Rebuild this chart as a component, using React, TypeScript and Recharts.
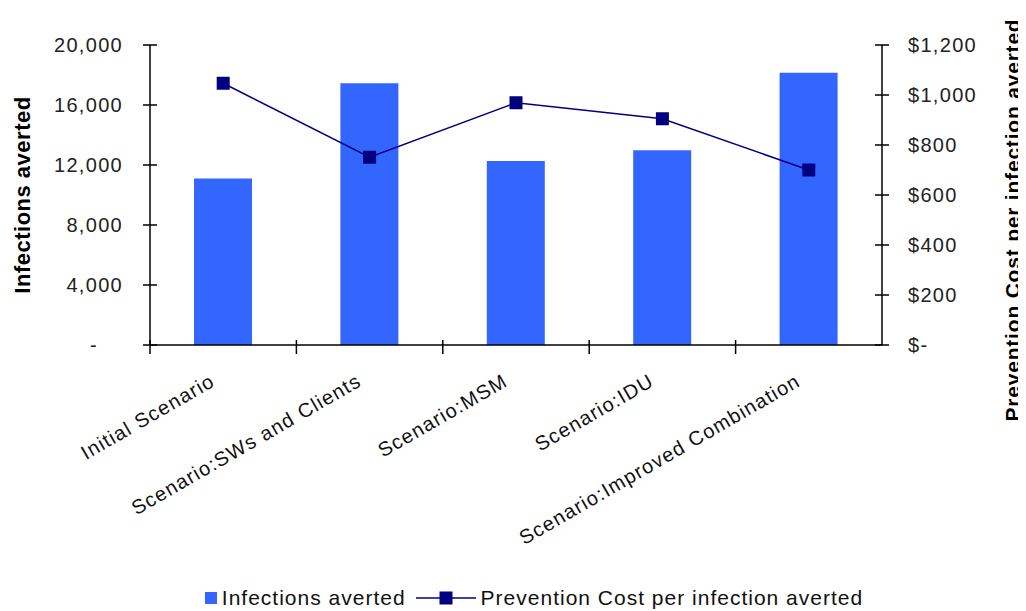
import { ComposedChart, Bar, Line, XAxis, YAxis, Legend } from "recharts";

const categories = [
  "Initial Scenario",
  "Scenario:SWs and Clients",
  "Scenario:MSM",
  "Scenario:IDU",
  "Scenario:Improved Combination",
];
const infectionsAverted = [11100, 17450, 12270, 12980, 18150];
const costPerInfection = [1047, 751, 969, 905, 700];
const leftTicks = [0, 4000, 8000, 12000, 16000, 20000];
const rightTicks = [0, 200, 400, 600, 800, 1000, 1200];

const data = categories.map((name, i) => ({
  name,
  infections: infectionsAverted[i],
  cost: costPerInfection[i],
}));

const BAR = "#3366FF";
const NAVY = "#000080";
const FONT = "Arial, 'Liberation Sans', sans-serif";
const PLOT_W = 732;
const BAND = PLOT_W / categories.length;

const fmtLeft = (v: number) => (v === 0 ? "-" : v.toLocaleString("en-US"));
const fmtRight = (v: number) => (v === 0 ? "$-" : "$" + v.toLocaleString("en-US"));

function LeftTick(props: any) {
  const { x, y, payload } = props;
  const pad = payload.value === 0 ? 52 : 27;
  return (
    <g>
      <line x1={x - 7} x2={x + 7} y1={y} y2={y} stroke="#000" strokeWidth={1.5} />
      <text x={x - pad} y={y} dy="0.35em" textAnchor="end" fontSize={20} letterSpacing={1.3} fill="#222" fontFamily={FONT}>
        {fmtLeft(payload.value)}
      </text>
    </g>
  );
}

function RightTick(props: any) {
  const { x, y, payload } = props;
  return (
    <g>
      <line x1={x - 7} x2={x + 7} y1={y} y2={y} stroke="#000" strokeWidth={1.5} />
      <text x={x + 26} y={y} dy="0.35em" textAnchor="start" fontSize={20} letterSpacing={1.3} fill="#222" fontFamily={FONT}>
        {fmtRight(payload.value)}
      </text>
    </g>
  );
}

function CategoryTick(props: any) {
  const { x, y, payload } = props;
  const bx = x - BAND / 2;
  return (
    <g>
      <line x1={bx} x2={bx} y1={y - 5} y2={y + 9} stroke="#000" strokeWidth={1.5} />
      <g transform={`translate(${x - 7},${y + 40})`}>
        <text textAnchor="end" transform="rotate(-30)" fontSize={20} letterSpacing={1.2} fill="#111" fontFamily={FONT}>
          {payload.value}
        </text>
      </g>
    </g>
  );
}

function LeftTitle(props: any) {
  const vb = props.viewBox || { x: 0, y: 37, width: 142, height: 300 };
  const cx = vb.x + 14;
  const cy = vb.y + vb.height / 2;
  return (
    <text x={cx} y={cy} transform={`rotate(-90, ${cx}, ${cy})`} textAnchor="middle" dominantBaseline="central" fontSize={22} letterSpacing={0.5} fontWeight="bold" fill="#000" fontFamily={FONT}>
      Infections averted
    </text>
  );
}

function RightTitle(props: any) {
  const vb = props.viewBox || { x: 874, y: 37, width: 144, height: 300 };
  const cx = vb.x + 130;
  const cy = vb.y + vb.height / 2 + 25;
  return (
    <text x={cx} y={cy} transform={`rotate(-90, ${cx}, ${cy})`} textAnchor="middle" dominantBaseline="central" fontSize={21} letterSpacing={0.8} fontWeight="bold" fill="#000" fontFamily={FONT}>
      Prevention Cost per infection averted
    </text>
  );
}

function SquareDot(props: any) {
  const { cx, cy } = props;
  if (cx == null || cy == null) return null;
  return <rect x={cx - 6.5} y={cy - 6.5} width={13} height={13} fill={NAVY} />;
}

function LegendBox() {
  const txt = { fontSize: 21, letterSpacing: 1, color: "#111", fontFamily: FONT, lineHeight: "26px" };
  return (
    <div style={{ height: 26, display: "flex", alignItems: "center", justifyContent: "center", paddingLeft: 34 }}>
      <span style={{ width: 12, height: 12, background: BAR, display: "inline-block", marginRight: 5 }} />
      <span style={txt}>Infections averted</span>
      <svg width={60} height={14} style={{ margin: "0 5px 0 10px" }}>
        <line x1={0} x2={60} y1={7} y2={7} stroke={NAVY} strokeWidth={1.5} />
        <rect x={23.5} y={0.5} width={13} height={13} fill={NAVY} />
      </svg>
      <span style={txt}>Prevention Cost per infection averted</span>
    </div>
  );
}

export default function App() {
  return (
    <div style={{ width: 1018, height: 603, background: "#fff" }}>
      <ComposedChart width={1018} height={603} data={data} margin={{ top: 37, right: 0, bottom: 0, left: 0 }}>
        <XAxis
          dataKey="name"
          height={240}
          interval={0}
          axisLine={{ stroke: "#000", strokeWidth: 1.5 }}
          tickLine={false}
          tickSize={0}
          tickMargin={0}
          tick={<CategoryTick />}
        />
        <YAxis
          yAxisId="left"
          orientation="left"
          width={142}
          domain={[0, 20000]}
          ticks={leftTicks}
          axisLine={{ stroke: "#000", strokeWidth: 1.5 }}
          tickLine={false}
          tickSize={0}
          tickMargin={0}
          tick={<LeftTick />}
          label={<LeftTitle />}
        />
        <YAxis
          yAxisId="right"
          orientation="right"
          width={144}
          domain={[0, 1200]}
          ticks={rightTicks}
          axisLine={{ stroke: "#000", strokeWidth: 1.5 }}
          tickLine={false}
          tickSize={0}
          tickMargin={0}
          tick={<RightTick />}
          label={<RightTitle />}
        />
        <Legend verticalAlign="bottom" content={<LegendBox />} />
        <Bar yAxisId="left" dataKey="infections" name="Infections averted" fill={BAR} barSize={58} isAnimationActive={false} />
        <Line
          yAxisId="right"
          dataKey="cost"
          name="Prevention Cost per infection averted"
          type="linear"
          stroke={NAVY}
          strokeWidth={1.5}
          dot={<SquareDot />}
          activeDot={false}
          isAnimationActive={false}
        />
      </ComposedChart>
    </div>
  );
}
